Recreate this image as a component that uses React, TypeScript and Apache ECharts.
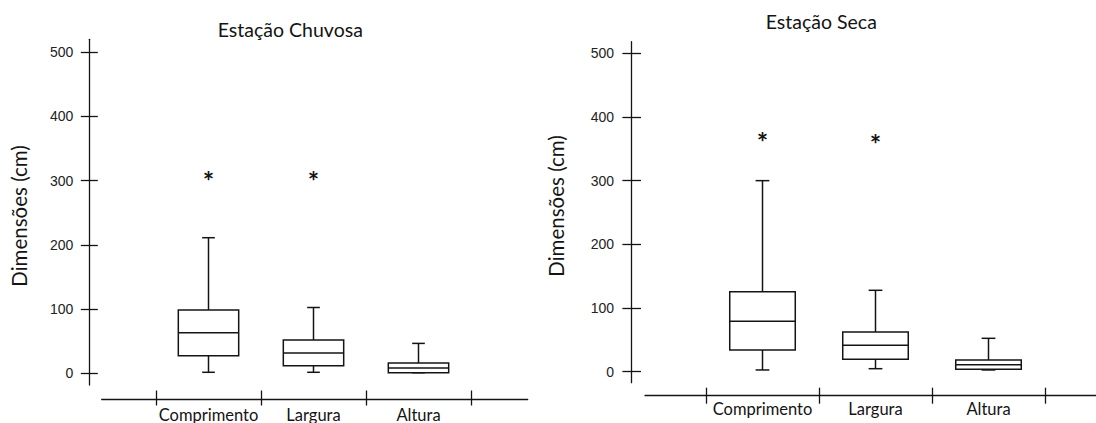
import React, { useEffect, useRef } from 'react';
import * as echarts from 'echarts';

// ---------- data ----------
const categories = ['Comprimento', 'Largura', 'Altura'];
const yTickValues = [0, 100, 200, 300, 400, 500];
// each row: [min, Q1, median, Q3, max]
const rainyBoxes = [
  [1.6, 27.3, 63, 98.8, 211.2],
  [1.6, 11.8, 31.5, 51.7, 102.5],
  [0.9, 0.9, 8.2, 16, 46.6],
];
const rainyOutliers = [
  [0, 309.5],
  [1, 309.5],
];
const dryBoxes = [
  [2.7, 34.1, 79.1, 125.6, 300],
  [4.7, 19.4, 41.4, 62.3, 127.8],
  [2.7, 3.7, 11, 18.4, 52.4],
];
const dryOutliers = [
  [0, 370.6],
  [1, 366.5],
];
const rainyTitle = 'Estação Chuvosa';
const dryTitle = 'Estação Seca';
const yName = 'Dimensões (cm)';

const INK = '#141414';
const LABEL_FONT = 'Lato';
const TICK_FONT = 'Liberation Sans';

function boxRender(boxFrac: number, capFrac: number) {
  return (params: any, api: any) => {
    const x = api.value(0);
    const lo = api.coord([x, api.value(1)]);
    const q1 = api.coord([x, api.value(2)]);
    const md = api.coord([x, api.value(3)]);
    const q3 = api.coord([x, api.value(4)]);
    const hi = api.coord([x, api.value(5)]);
    const band = api.size([1, 0])[0];
    const bw = band * boxFrac;
    const cw = bw * capFrac;
    const cx = lo[0];
    const st = { stroke: INK, lineWidth: 1.5, fill: null };
    return {
      type: 'group',
      children: [
        { type: 'line', shape: { x1: cx, y1: q3[1], x2: cx, y2: hi[1] }, style: st },
        { type: 'line', shape: { x1: cx, y1: q1[1], x2: cx, y2: lo[1] }, style: st },
        { type: 'line', shape: { x1: cx - cw / 2, y1: hi[1], x2: cx + cw / 2, y2: hi[1] }, style: st },
        { type: 'line', shape: { x1: cx - cw / 2, y1: lo[1], x2: cx + cw / 2, y2: lo[1] }, style: st },
        {
          type: 'rect',
          shape: { x: cx - bw / 2, y: q3[1], width: bw, height: q1[1] - q3[1] },
          style: { stroke: INK, lineWidth: 1.5, fill: '#ffffff' },
        },
        { type: 'line', shape: { x1: cx - bw / 2, y1: md[1], x2: cx + bw / 2, y2: md[1] }, style: st },
      ],
    };
  };
}

function starRender(dy: number) {
  return (params: any, api: any) => {
    const p = api.coord([api.value(0), api.value(1)]);
    return {
      type: 'text',
      x: p[0],
      y: p[1] + dy,
      style: {
        text: '*',
        align: 'center',
        verticalAlign: 'middle',
        fontSize: 27,
        fontWeight: 'bold',
        fontFamily: LABEL_FONT,
        fill: INK,
      },
    };
  };
}

export default function App() {
  const ref = useRef<HTMLDivElement>(null);

  useEffect(() => {
    if (!ref.current) return;
    const chart = echarts.init(ref.current, null, { renderer: 'svg' });

    const panels = [
      {
        plot: { left: 156, top: 39.3, width: 315, height: 346.7 },
        line: { left: 101.7, width: 426, top: 398, height: 1 },
        min: -18.2,
        max: 520.2,
        yOffset: 66.7,
        xOffset: 13,
        xTick: 7.5,
        yTick: 8.5,
        yLabelMargin: 16,
        xLabelMargin: 8,
        boxes: rainyBoxes,
        outliers: rainyOutliers,
        boxFrac: 0.575,
      },
      {
        plot: { left: 706, top: 41.7, width: 339, height: 341 },
        line: { left: 645, width: 460, top: 394.7, height: 1 },
        min: -17.3,
        max: 518.2,
        yOffset: 74.3,
        xOffset: 13,
        xTick: 8,
        yTick: 9.3,
        yLabelMargin: 17.7,
        xLabelMargin: 5,
        boxes: dryBoxes,
        outliers: dryOutliers,
        boxFrac: 0.58,
      },
    ];

    const grid: any[] = [];
    const xAxis: any[] = [];
    const yAxis: any[] = [];
    const series: any[] = [];

    panels.forEach((p) => {
      const gPlot = grid.length;
      grid.push({ ...p.plot, containLabel: false });
      const gLine = grid.length;
      grid.push({ ...p.line, containLabel: false });

      const xMain = xAxis.length;
      xAxis.push({
        type: 'category',
        gridIndex: gPlot,
        data: categories,
        boundaryGap: true,
        position: 'bottom',
        offset: p.xOffset,
        axisLine: { show: false, onZero: false },
        axisTick: { show: true, length: p.xTick, inside: false, lineStyle: { color: INK, width: 1.3 } },
        axisLabel: {
          show: true,
          margin: p.xLabelMargin,
          fontFamily: LABEL_FONT,
          fontSize: 16.5,
          color: INK,
          interval: 0,
        },
        splitLine: { show: false },
      });
      xAxis.push({
        type: 'category',
        gridIndex: gPlot,
        data: categories,
        boundaryGap: true,
        position: 'bottom',
        offset: p.xOffset,
        axisLine: { show: false, onZero: false },
        axisTick: { show: true, length: p.xTick, inside: true, lineStyle: { color: INK, width: 1.3 } },
        axisLabel: { show: false },
        splitLine: { show: false },
      });
      xAxis.push({
        type: 'value',
        gridIndex: gLine,
        min: 0,
        max: 1,
        position: 'bottom',
        axisLine: { show: true, onZero: false, lineStyle: { color: INK, width: 1.3 } },
        axisTick: { show: false },
        axisLabel: { show: false },
        splitLine: { show: false },
      });

      const yMain = yAxis.length;
      yAxis.push({
        type: 'value',
        gridIndex: gPlot,
        min: p.min,
        max: p.max,
        position: 'left',
        offset: p.yOffset,
        axisLine: { show: true, onZero: false, lineStyle: { color: INK, width: 1.3 } },
        axisTick: {
          show: true,
          length: p.yTick,
          inside: false,
          customValues: yTickValues,
          lineStyle: { color: INK, width: 1.3 },
        },
        axisLabel: {
          show: true,
          customValues: yTickValues,
          margin: p.yLabelMargin,
          fontFamily: TICK_FONT,
          fontSize: 14,
          color: '#222',
        },
        splitLine: { show: false },
      });
      yAxis.push({
        type: 'value',
        gridIndex: gPlot,
        min: p.min,
        max: p.max,
        position: 'left',
        offset: p.yOffset,
        axisLine: { show: false, onZero: false },
        axisTick: {
          show: true,
          length: p.yTick,
          inside: true,
          customValues: yTickValues,
          lineStyle: { color: INK, width: 1.3 },
        },
        axisLabel: { show: false },
        splitLine: { show: false },
      });
      yAxis.push({ type: 'value', gridIndex: gLine, show: false, min: 0, max: 1 });

      series.push({
        type: 'custom',
        xAxisIndex: xMain,
        yAxisIndex: yMain,
        renderItem: boxRender(p.boxFrac, 0.21),
        encode: { x: 0, y: [1, 2, 3, 4, 5] },
        data: p.boxes.map((b, k) => [k, ...b]),
        silent: true,
      });
      series.push({
        type: 'custom',
        xAxisIndex: xMain,
        yAxisIndex: yMain,
        renderItem: starRender(5.5),
        encode: { x: 0, y: 1 },
        data: p.outliers,
        silent: true,
      });
    });

    const textStyle = (fontSize: number) => ({
      fontFamily: LABEL_FONT,
      fontSize,
      fill: INK,
      align: 'center',
      verticalAlign: 'middle',
    });

    chart.setOption({
      animation: false,
      backgroundColor: '#ffffff',
      grid,
      xAxis,
      yAxis,
      series,
      graphic: [
        { type: 'text', x: 290.3, y: 29, style: { ...textStyle(19.5), text: rainyTitle } },
        { type: 'text', x: 821.3, y: 21, style: { ...textStyle(19.5), text: dryTitle } },
        { type: 'text', x: 18.5, y: 216, rotation: Math.PI / 2, style: { ...textStyle(20.5), text: yName } },
        { type: 'text', x: 556, y: 206, rotation: Math.PI / 2, style: { ...textStyle(20.5), text: yName } },
      ],
    });

    return () => chart.dispose();
  }, []);

  return (
    <div
      ref={ref}
      style={{ position: 'fixed', left: 0, top: 0, width: 1096, height: 423, background: '#fff' }}
    />
  );
}
